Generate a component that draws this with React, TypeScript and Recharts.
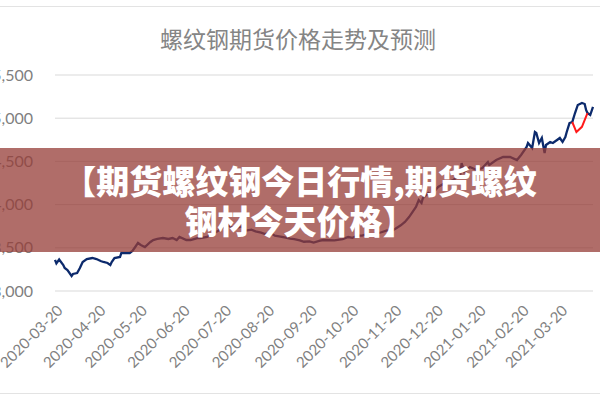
import { LineChart, Line, XAxis, YAxis, CartesianGrid } from "recharts";

// 螺纹钢期货 daily closes
const dates = [
  "2020-03-20", "2020-03-21", "2020-03-23", "2020-03-26", "2020-03-27", "2020-03-29",
  "2020-04-01", "2020-04-02", "2020-04-05", "2020-04-07", "2020-04-09", "2020-04-12",
  "2020-04-16", "2020-04-19", "2020-04-22", "2020-04-24", "2020-04-27", "2020-04-29",
  "2020-04-30", "2020-05-02", "2020-05-06", "2020-05-07", "2020-05-10", "2020-05-13",
  "2020-05-15", "2020-05-17", "2020-05-19", "2020-05-21", "2020-05-24", "2020-05-28",
  "2020-05-30", "2020-06-02", "2020-06-06", "2020-06-10", "2020-06-13", "2020-06-16",
  "2020-06-18", "2020-06-23", "2020-06-26", "2020-07-01", "2020-07-03", "2020-07-08",
  "2020-07-17", "2020-07-22", "2020-07-26", "2020-07-29", "2020-08-02", "2020-08-05",
  "2020-08-09", "2020-08-12", "2020-08-16", "2020-08-19", "2020-08-23", "2020-08-26",
  "2020-08-30", "2020-09-02", "2020-09-06", "2020-09-09", "2020-09-13", "2020-09-16",
  "2020-09-20", "2020-09-23", "2020-09-27", "2020-09-30", "2020-10-08", "2020-10-14",
  "2020-10-18", "2020-10-21", "2020-10-25", "2020-10-28", "2020-11-01", "2020-11-05",
  "2020-11-11", "2020-11-15", "2020-11-18", "2020-11-22", "2020-11-25", "2020-11-28",
  "2020-12-01", "2020-12-06", "2020-12-08", "2020-12-10", "2020-12-11", "2020-12-15",
  "2020-12-17", "2020-12-22", "2020-12-27", "2021-01-02", "2021-01-07", "2021-01-08",
  "2021-01-10", "2021-01-14", "2021-01-19", "2021-01-23", "2021-01-27", "2021-01-28",
  "2021-02-02", "2021-02-07", "2021-02-12", "2021-02-17", "2021-02-20", "2021-02-24",
  "2021-02-25", "2021-02-28", "2021-03-02", "2021-03-03", "2021-03-05", "2021-03-07",
  "2021-03-09", "2021-03-10", "2021-03-13", "2021-03-15", "2021-03-18", "2021-03-20",
  "2021-03-22", "2021-03-24", "2021-03-25", "2021-03-27", "2021-03-29", "2021-03-31",
  "2021-04-02", "2021-04-05", "2021-04-07", "2021-04-08", "2021-04-09", "2021-04-11",
  "2021-04-13",
];

const actualPrices = [
  3360, 3320, 3365, 3300, 3266, 3243,
  3174, 3197, 3208, 3266, 3336, 3370,
  3382, 3370, 3347, 3336, 3324, 3300,
  3336, 3382, 3394, 3440, 3440, 3440,
  3463, 3509, 3556, 3532, 3509, 3567,
  3590, 3602, 3613, 3602, 3613, 3590,
  3625, 3590, 3590, 3613, 3613, 3625,
  3706, 3764, 3740, 3730, 3745, 3700,
  3710, 3690, 3675, 3660, 3670, 3640,
  3630, 3620, 3605, 3600, 3585, 3570,
  3575, 3560, 3580, 3590, 3585, 3600,
  3625, 3615, 3640, 3640, 3660, 3655,
  3680, 3700, 3690, 3730, 3760, 3800,
  3856, 3972, 4053, 4018, 4076, 4134,
  4111, 4204, 4250, 4285, 4343, 4481,
  4377, 4435, 4400, 4424, 4493, 4458,
  4516, 4551, 4551, 4516, 4574, 4667,
  4713, 4655, 4840, 4829, 4713, 4771,
  4597, 4690, 4725, 4713, 4748, 4771,
  4725, 4782, 4840, 4944, 4956, 5060,
  5153, 5176, 5164, 5095, 5060, 5037,
  5130,
];

// 预测
const forecastDates = ["2021-03-29", "2021-04-01", "2021-04-05", "2021-04-09"];
const forecastPrices = [4956, 4840, 4900, 5060];

const tickDates = [
  "2020-03-20", "2020-04-20", "2020-05-20", "2020-06-20", "2020-07-20",
  "2020-08-20", "2020-09-20", "2020-10-20", "2020-11-20", "2020-12-20",
  "2021-01-20", "2021-02-20", "2021-03-20",
];

const yTicks = [3000, 3500, 4000, 4500, 5000, 5500];

const DAY = 86400000;
const start = Date.parse(dates[0]);
const dayOf = (d: string) => Math.round((Date.parse(d) - start) / DAY);
const labelOf = (t: number) => {
  const d = new Date(start + t * DAY);
  return d.toISOString().slice(0, 10);
};

type Row = { t: number; actual?: number; forecast?: number };
const rowMap = new Map<number, Row>();
dates.forEach((d, i) => {
  const t = dayOf(d);
  rowMap.set(t, { ...(rowMap.get(t) || { t }), actual: actualPrices[i] });
});
forecastDates.forEach((d, i) => {
  const t = dayOf(d);
  rowMap.set(t, { ...(rowMap.get(t) || { t }), forecast: forecastPrices[i] });
});
const data = Array.from(rowMap.values()).sort((a, b) => a.t - b.t);

const axisFont = "Lato, 'Open Sans', sans-serif";

function XTick({ x, y, payload }: any) {
  return (
    <g transform={`translate(${x + 5},${y + 9})`}>
      <text
        transform="rotate(-45)"
        textAnchor="end"
        dy="0.35em"
        fill="#7f7f7f"
        fontSize={15}
        fontFamily={axisFont}
      >
        {labelOf(payload.value)}
      </text>
    </g>
  );
}

function YTick({ x, y, payload }: any) {
  return (
    <text
      x={x}
      y={y}
      dy="0.35em"
      textAnchor="end"
      fill="#7f7f7f"
      fontSize={16}
      fontFamily={axisFont}
    >
      {payload.value.toLocaleString("en-US")}
    </text>
  );
}

export default function App() {
  return (
    <div
      style={{
        position: "absolute",
        left: 0,
        top: 0,
        width: 600,
        height: 400,
        background: "#fff",
        overflow: "hidden",
      }}
    >
      {/* frame lines */}
      <div style={{ position: "absolute", left: 0, right: 0, top: 6, borderTop: "1px solid #e3e3e3" }} />
      <div style={{ position: "absolute", left: 0, right: 0, top: 393, borderTop: "1px solid #e3e3e3" }} />

      <div
        style={{
          position: "absolute",
          left: 0,
          top: 23,
          width: 596,
          textAlign: "center",
          lineHeight: "30px",
          fontSize: 23,
          color: "#858585",
          fontFamily: "'Noto Sans CJK SC', sans-serif",
        }}
      >
        螺纹钢期货价格走势及预测
      </div>

      <div style={{ position: "absolute", left: 0, top: 0 }}>
        <LineChart
          width={600}
          height={400}
          data={data}
          margin={{ top: 75, right: 7, left: 0, bottom: 0 }}
        >
          <CartesianGrid horizontal vertical={false} stroke="#d9d9d9" />
          <XAxis
            dataKey="t"
            type="number"
            domain={["dataMin", "dataMax"]}
            ticks={tickDates.map(dayOf)}
            tick={<XTick />}
            height={109}
            axisLine={false}
            tickLine={false}
            interval={0}
          />
          <YAxis
            domain={[3000, 5500]}
            ticks={yTicks}
            tick={<YTick />}
            width={55}
            axisLine={false}
            tickLine={false}
            tickMargin={16}
          />
          <Line
            dataKey="actual"
            stroke="#0c2a6c"
            strokeWidth={2.3}
            dot={false}
            connectNulls
            isAnimationActive={false}
          />
          <Line
            dataKey="forecast"
            stroke="#ff1a1a"
            strokeWidth={2}
            dot={false}
            connectNulls
            isAnimationActive={false}
          />
        </LineChart>
      </div>

      {/* banner overlay */}
      <div
        style={{
          position: "absolute",
          left: 0,
          top: 148,
          width: 600,
          height: 104,
          background: "rgba(150, 60, 55, 0.75)",
        }}
      />
      <div
        style={{
          position: "absolute",
          left: 0,
          top: 160,
          width: 600,
          textAlign: "center",
          color: "#fff",
          fontWeight: 900,
          fontSize: 33,
          lineHeight: "40px",
          fontFamily: "'Noto Sans CJK SC', sans-serif",
        }}
      >
        【期货螺纹钢今日行情,期货螺纹
        <br />
        钢材今天价格】
      </div>
    </div>
  );
}
